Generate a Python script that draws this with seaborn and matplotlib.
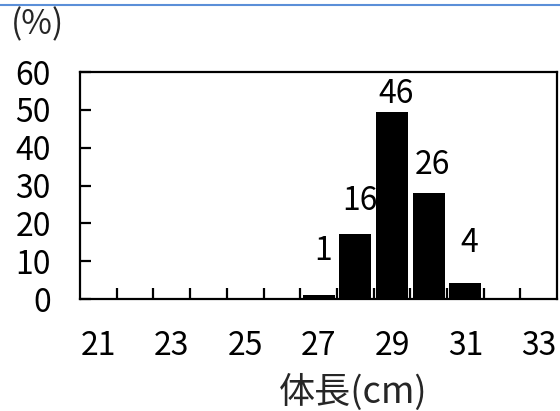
import numpy as np
import pandas as pd
import matplotlib
matplotlib.use("Agg")
import matplotlib.pyplot as plt
import seaborn as sns
from matplotlib.lines import Line2D

# body length classes (cm), share of fish (%) and fish counts shown above bars
lengths = ["21", "22", "23", "24", "25", "26", "27", "28", "29", "30", "31", "32", "33"]
percent = [0, 0, 0, 0, 0, 0, 1.1, 17.2, 49.5, 28.0, 4.3, 0, 0]
counts = [None, None, None, None, None, None, 1, 16, 46, 26, 4, None, None]
y_ticks = [0, 10, 20, 30, 40, 50, 60]

# manual label offsets (points) like the hand-placed labels in the original
label_dy = [None] * 6 + [25, 17, 6, 14, 22] + [None] * 2

sns.set_theme(style="white")
plt.rcParams["font.family"] = ["Noto Sans CJK JP", "DejaVu Sans"]

FS = 23

fig = plt.figure(figsize=(5.6, 4.11), dpi=100)
ax = fig.add_axes([0.143, 0.2725, 0.852, 0.5523])

df = pd.DataFrame({"length": lengths, "percent": percent})
sns.barplot(data=df, x="length", y="percent", color="black", saturation=1,
            width=0.87, edgecolor="none", ax=ax)

for i, (c, dy) in enumerate(zip(counts, label_dy)):
    if c is None:
        continue
    ax.annotate(str(c), xy=(i, percent[i]), xytext=(3, dy), textcoords="offset points",
                ha="center", va="baseline", fontsize=FS, color="black")

ax.set_xlim(-0.5, len(lengths) - 0.5)
ax.set_ylim(0, 60)
ax.set_yticks(y_ticks)
ax.set_yticklabels([str(v) for v in y_ticks], fontsize=FS)

ax.set_xticks(range(len(lengths)))
ax.set_xticklabels([l if i % 2 == 0 else "" for i, l in enumerate(lengths)], fontsize=FS)
ax.set_xticks(np.arange(0.5, len(lengths) - 1, 1), minor=True)

ax.tick_params(axis="x", which="major", length=0, pad=22, colors="black")
ax.tick_params(axis="x", which="minor", bottom=True, direction="in", length=8,
               width=1.6, color="black")
ax.tick_params(axis="y", direction="in", length=8, width=1.6, pad=21, colors="black", left=True)
for lab in ax.get_yticklabels():
    lab.set_horizontalalignment("right")

for s in ax.spines.values():
    s.set_visible(True)
    s.set_color("black")
    s.set_linewidth(1.6)

ax.set_xlabel("")
ax.set_ylabel("")
fig.text(0.63, 0.045, "体長(cm)", fontsize=26, ha="center", va="center")
fig.text(0.02, 0.94, "(%)", fontsize=24, ha="left", va="center")

fig.add_artist(Line2D([0, 1], [0.988, 0.988], transform=fig.transFigure,
                      color="#5b8fd8", linewidth=1.5))

fig.savefig("out.png", dpi=100, facecolor="white")
